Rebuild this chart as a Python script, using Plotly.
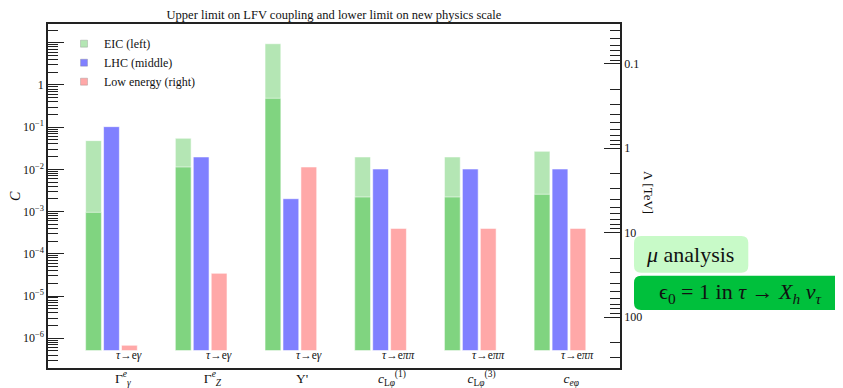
import plotly.graph_objects as go

# ---------------- data ----------------
categories = [
    "Γ<sup><i>e</i></sup><sub><i>γ</i></sub>",
    "Γ<sup><i>e</i></sup><sub><i>Z</i></sub>",
    "Y'",
    "<i>c</i><sub>L<i>φ</i></sub><sup>(1)</sup>",
    "<i>c</i><sub>L<i>φ</i></sub><sup>(3)</sup>",
    "<i>c</i><sub><i>eφ</i></sub>",
]
processes = ["<i>τ</i>→e<i>γ</i>"] * 3 + ["<i>τ</i>→e<i>ππ</i>"] * 3
eic_upper = [0.048, 0.0546, 9.5, 0.0197, 0.0197, 0.0268]   # light green top
eic_lower = [9.6e-4, 0.0114, 0.484, 0.00222, 0.00222, 0.00257]  # dark green top
lhc = [0.103, 0.0197, 0.00202, 0.0102, 0.0102, 0.0102]
low_energy = [6.8e-7, 3.45e-5, 0.0114, 4.0e-4, 4.0e-4, 4.0e-4]
bar_floor = 5.1e-7
c_ticks = [1e-6, 1e-5, 1e-4, 1e-3, 1e-2, 1e-1, 1, 10]
c_ticktext = ["10<sup>−6</sup>", "10<sup>−5</sup>", "10<sup>−4</sup>", "10<sup>−3</sup>",
              "10<sup>−2</sup>", "10<sup>−1</sup>", "1", ""]
lam_ticks = [0.1, 1, 10, 100]
lam_ticktext = ["0.1", "1", "10", "100"]
c_ref = 10 ** -1.5  # Λ = sqrt(c_ref / C) in TeV

# ---------------- styling ----------------
FONT = "Liberation Serif"
LIGHT_GREEN = "rgb(180,230,180)"
DARK_GREEN = "rgb(128,212,128)"
BLUE = "rgb(128,128,255)"
PINK = "rgb(255,168,168)"
AX = "#222222"
TXT = "#111111"

# the page body adds an 8px offset: figure spans x 8..843, y 8..388
OFF = 8
FIG_W, FIG_H = 843 - OFF, 388 - OFF
PL, PR, PT, PB = 48, 620, 24, 368  # absolute plot-area edges in the page

xs = list(range(len(categories)))
W = 0.176
edge = dict(color="rgba(255,255,255,0.8)", width=0.7)


def sz(vals):
    return [v - bar_floor for v in vals]


fig = go.Figure()
fig.update_layout(template=go.layout.Template())

fig.add_trace(go.Bar(x=xs, y=sz(eic_upper), base=bar_floor, width=W, offset=-0.294,
                     marker=dict(color=LIGHT_GREEN, line=edge), showlegend=False, name="EIC"))
fig.add_trace(go.Bar(x=xs, y=sz(eic_lower), base=bar_floor, width=W, offset=-0.294,
                     marker=dict(color=DARK_GREEN, line=edge), showlegend=False, name="EIC"))
fig.add_trace(go.Bar(x=xs, y=sz(lhc), base=bar_floor, width=W, offset=-0.094,
                     marker=dict(color=BLUE, line=edge), showlegend=False, name="LHC"))
fig.add_trace(go.Bar(x=xs, y=sz(low_energy), base=bar_floor, width=W, offset=0.106,
                     marker=dict(color=PINK, line=edge), showlegend=False, name="Low"))

for name, col in [("EIC (left)", LIGHT_GREEN), ("LHC (middle)", BLUE), ("Low energy (right)", PINK)]:
    fig.add_trace(go.Scatter(x=[None], y=[None], mode="markers", name=name,
                             marker=dict(symbol="square", size=7, color=col,
                                         line=dict(color="rgba(120,120,120,0.6)", width=0.5))))

# dummy trace to realise right axis
fig.add_trace(go.Scatter(x=[0], y=[1], yaxis="y2", mode="markers",
                         marker=dict(opacity=0), showlegend=False, hoverinfo="skip"))

# process labels under each group
for i, p in enumerate(processes):
    fig.add_annotation(x=i + 0.194, y=0.037, xref="x", yref="paper", text=p, showarrow=False,
                       xanchor="center", yanchor="middle",
                       font=dict(family=FONT, size=11.5, color=TXT))

minor_c = [k * 10 ** n for n in range(-7, 2) for k in range(2, 10)]
minor_l = [k * 10 ** n for n in range(-2, 3) for k in range(2, 10)]

fig.update_layout(
    width=FIG_W, height=FIG_H,
    margin=dict(l=PL - OFF, r=843 - PR, t=PT - OFF, b=388 - PB, autoexpand=False),
    paper_bgcolor="white", plot_bgcolor="white",
    font=dict(family=FONT, size=12, color=TXT),
    barmode="overlay",
    title=dict(text="Upper limit on LFV coupling and lower limit on new physics scale",
               x=0.5, xref="paper", xanchor="center", y=1 - (14.5 - OFF) / FIG_H, yref="container",
               yanchor="middle", font=dict(family=FONT, size=12.5, color=TXT)),
    legend=dict(x=0.028, y=0.985, xanchor="left", yanchor="top", bgcolor="rgba(0,0,0,0)",
                font=dict(family=FONT, size=12, color=TXT), tracegroupgap=0, itemwidth=30),
    xaxis=dict(range=[-0.7135, 5.663], showline=True, mirror=True, linecolor=AX, linewidth=1.5,
               ticks="", tickvals=[i + 0.12 for i in xs], ticktext=categories,
               tickfont=dict(family=FONT, size=13.5, color=TXT), automargin=False,
               ticklabelstandoff=-3,
               showgrid=False, zeroline=False),
    yaxis=dict(type="log", range=[-6.706, 1.445], showline=True, linecolor=AX, linewidth=1.5,
               ticks="inside", ticklen=16, tickwidth=1, tickcolor=AX,
               tickvals=c_ticks, ticktext=c_ticktext, automargin=False,
               tickfont=dict(family=FONT, size=12, color=TXT),
               minor=dict(ticks="inside", ticklen=10, tickwidth=1, tickcolor=AX,
                          tickvals=minor_c, showgrid=False),
               showgrid=False, zeroline=False),
    yaxis2=dict(type="log", overlaying="y", side="right", anchor="x",
                range=[2.603, -1.4725], showline=True, linecolor=AX, linewidth=1.5,
                ticks="inside", ticklen=16, tickwidth=1, tickcolor=AX,
                tickvals=lam_ticks, ticktext=lam_ticktext, automargin=False,
                tickfont=dict(family=FONT, size=12, color=TXT),
                minor=dict(ticks="inside", ticklen=10, tickwidth=1, tickcolor=AX,
                           tickvals=minor_l, showgrid=False),
                showgrid=False, zeroline=False),
)


def px(x):
    return (x - PL) / (PR - PL)


def py(y):
    return (PB - y) / (PB - PT)


# axis titles
fig.add_annotation(x=px(15), y=0.5, xref="paper", yref="paper", text="<i>C</i>",
                   showarrow=False, textangle=-90, xanchor="center", yanchor="middle",
                   font=dict(family=FONT, size=14, color=TXT))
fig.add_annotation(x=px(649), y=py(192), xref="paper", yref="paper",
                   text="Λ [TeV]", showarrow=False, textangle=90,
                   xanchor="center", yanchor="middle",
                   font=dict(family=FONT, size=13, color=TXT))


# rounded boxes on the right
def rrect(x0, y0, x1, y1, r=7):
    rx, ry = r / (PR - PL), r / (PB - PT)
    return (f"M{x0+rx},{y0} L{x1-rx},{y0} Q{x1},{y0} {x1},{y0+ry} L{x1},{y1-ry} "
            f"Q{x1},{y1} {x1-rx},{y1} L{x0+rx},{y1} Q{x0},{y1} {x0},{y1-ry} "
            f"L{x0},{y0+ry} Q{x0},{y0} {x0+rx},{y0} Z")


fig.add_shape(type="path", xref="paper", yref="paper",
              path=rrect(px(634), py(272.7), px(748.3), py(236)),
              fillcolor="rgb(200,250,200)", line=dict(width=0))
fig.add_shape(type="path", xref="paper", yref="paper",
              path=rrect(px(634), py(310), px(842.5), py(275.7)),
              fillcolor="rgb(0,192,60)", line=dict(width=0))
fig.add_annotation(x=px(690), y=py(254), xref="paper", yref="paper",
                   text="<i>μ</i> analysis", showarrow=False,
                   xanchor="center", yanchor="middle",
                   font=dict(family=FONT, size=22, color=TXT))
fig.add_annotation(x=px(739.5), y=py(293), xref="paper", yref="paper",
                   text="ϵ<sub>0</sub> = 1 in <i>τ</i> → <i>X<sub>h</sub></i> <i>ν<sub>τ</sub></i>",
                   showarrow=False, xanchor="center", yanchor="middle",
                   font=dict(family=FONT, size=22, color=TXT))

fig.write_html("out.html")
